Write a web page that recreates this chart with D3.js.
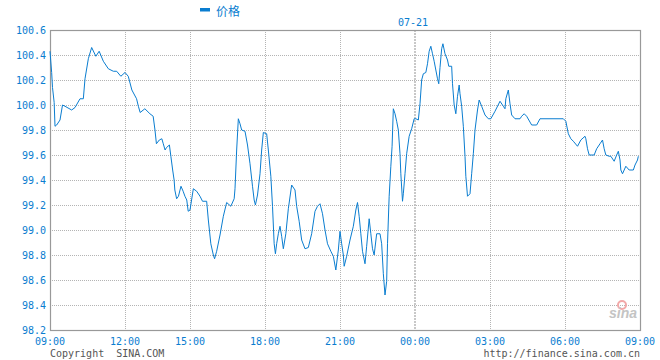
<!DOCTYPE html>
<html><head><meta charset="utf-8">
<script src="https://cdn.jsdelivr.net/npm/d3@7"></script>
<style>body{margin:0;background:#fff}svg{display:block}</style>
</head><body>
<script>
// minutes since 09:00 (day 1) and price
const minutes = [0,4,6,10,12,16,24,30,36,52,60,72,80,84,92,100,110,118,128,140,152,160,170,180,
189,199,212,217,222,235,249,258,263,267,275,282,286,291,295,303,307,312,316,318,323,328,335,341,346,351,355,360,
368,376,384,390,400,404,410,416,419,424,432,440,448,458,466,468,472,476,480,484,492,498,504,510,514,517,522,528,532,536,
544,548,554,558,562,565,568,572,576,580,584,590,596,604,612,616,622,628,636,644,652,660,666,672,678,684,690,698,704,710,716,
720,724,728,730,736,744,752,758,762,766,770,774,780,784,790,794,798,802,808,816,820,824,828,832,834,838,842,845,848,852,856,860,864,866,870,872,876,880,886,892,898,
902,908,912,916,920,926,930,934,938,942,946,950,954,957,960,964,967,972,978,981,988,990,994,998,1002,1006,1008,1012,1016,1020,1022,1026,1032,1036,1040,1044,1050,1054,1060,1068,1076,
1082,1092,1104,1112,1116,1118,1124,1128,1132,1140,1152,1156,1162,1168,1180,1192,1200,1256,
1262,1268,1274,1280,1290,1298,1308,1310,1314,1318,1330,1336,1344,1350,1354,1358,1366,1370,1378,1384,1388,1392,1394,1398,1402,1406,1414,1424,1428,1434,1436];
const prices = [100.43,100.26,100.14,100.02,99.83,99.84,99.88,100.00,99.99,99.96,99.98,100.05,100.05,100.21,100.37,100.46,100.39,100.43,100.35,100.29,100.27,100.27,100.23,100.26,
100.23,100.12,100.05,99.99,99.94,99.97,99.93,99.91,99.80,99.69,99.72,99.73,99.69,99.64,99.66,99.68,99.59,99.48,99.40,99.32,99.25,99.27,99.35,99.31,99.27,99.24,99.15,99.16,
99.33,99.31,99.27,99.23,99.23,99.08,98.89,98.80,98.77,98.83,98.96,99.11,99.22,99.19,99.25,99.33,99.64,99.89,99.85,99.80,99.79,99.68,99.53,99.35,99.24,99.20,99.28,99.45,99.64,99.78,
99.77,99.64,99.43,99.19,98.89,98.81,98.89,98.97,99.03,98.95,98.85,98.97,99.17,99.36,99.32,99.19,99.07,98.92,98.85,98.86,98.97,99.15,99.19,99.21,99.13,99.00,98.89,98.83,98.79,98.68,98.84,
98.99,98.89,98.80,98.71,98.79,98.92,99.03,99.16,99.22,99.11,98.97,98.83,98.73,98.87,99.09,98.97,98.85,98.80,98.97,98.97,98.89,98.65,98.48,98.59,98.89,99.27,99.51,99.67,99.97,99.93,99.87,99.80,99.61,99.45,99.23,99.29,99.45,99.61,99.75,99.81,99.89,
99.89,99.88,100.01,100.20,100.25,100.26,100.33,100.43,100.47,100.41,100.35,100.28,100.21,100.17,100.30,100.45,100.49,100.41,100.36,100.31,100.31,100.17,100.00,99.93,100.07,100.16,100.09,99.99,99.83,99.59,99.43,99.27,99.29,99.45,99.61,99.80,99.96,100.04,99.99,99.92,99.89,
99.89,99.95,100.03,99.99,99.97,100.05,100.12,100.01,99.92,99.89,99.89,99.91,99.93,99.91,99.84,99.84,99.89,99.89,
99.87,99.77,99.73,99.71,99.67,99.72,99.75,99.73,99.65,99.60,99.60,99.65,99.69,99.72,99.65,99.60,99.59,99.59,99.55,99.60,99.63,99.56,99.48,99.45,99.48,99.51,99.48,99.48,99.52,99.56,99.59];

const xTickMinutes = [0,180,360,540,720,900,1080,1260,1440];
const xTickLabels = ["09:00","12:00","15:00","18:00","21:00","00:00","03:00","06:00","09:00"];
const yTicks = [98.2,98.4,98.6,98.8,99.0,99.2,99.4,99.6,99.8,100.0,100.2,100.4,100.6];
const seriesName = "价格";
const dateLabel = "07-21";
const dateMinute = 900;

const W = 660, H = 360;
const L = 50, R = 640, T = 30, B = 330;
const blue = "#0a7dd0";
const mono = "'DejaVu Sans Mono', monospace";

const svg = d3.select("body").append("svg").attr("width", W).attr("height", H);

const x = d3.scaleLinear().domain(xTickMinutes).range([50,125,190,265,340,415,490,565,640]);
const y = d3.scaleLinear().domain([98.2,100.6]).range([B,T]);

// grid
const g = svg.append("g");
g.selectAll("line.h").data(yTicks.slice(1,-1)).join("line")
  .attr("x1", L).attr("x2", R).attr("y1", d=>Math.round(y(d))+0.5).attr("y2", d=>Math.round(y(d))+0.5)
  .attr("stroke","#b4b4b4").attr("stroke-dasharray","1,1");
g.selectAll("line.v").data(xTickMinutes.slice(1,-1).filter(m=>m!==dateMinute)).join("line")
  .attr("x1", d=>Math.round(x(d))+0.5).attr("x2", d=>Math.round(x(d))+0.5).attr("y1", T).attr("y2", B)
  .attr("stroke","#b4b4b4").attr("stroke-dasharray","1,1");
g.append("line").attr("x1", x(dateMinute)).attr("x2", x(dateMinute)).attr("y1", T).attr("y2", B)
  .attr("stroke","#bbb").attr("stroke-width",1.6).attr("stroke-dasharray","2,1");

// frame
svg.append("rect").attr("x", L+0.5).attr("y", T+0.5).attr("width", R-L).attr("height", B-T)
  .attr("fill","none").attr("stroke","#999").attr("stroke-width",1.2);

// logo
svg.append("circle").attr("cx",622).attr("cy",305).attr("r",4).attr("fill","none").attr("stroke","#f2a8a8").attr("stroke-width",2);
svg.append("text").attr("x",609).attr("y",318).text("sina").attr("font-family","Arial, sans-serif")
  .attr("font-size",14).attr("font-style","italic").attr("font-weight","bold").attr("fill","#c4c4c4");

// line
const line = d3.line().x((d,i)=>x(minutes[i])).y(d=>y(d));
svg.append("path").datum(prices).attr("d", line).attr("fill","none").attr("stroke", blue).attr("stroke-width",1);

// y labels
svg.append("g").selectAll("text").data(yTicks).join("text")
  .attr("x", 46).attr("y", d=>y(d)+4).attr("text-anchor","end")
  .attr("font-family", mono).attr("font-size",10).attr("fill", blue).text(d=>d.toFixed(1));

// x labels
svg.append("g").selectAll("text").data(xTickMinutes).join("text")
  .attr("x", d=>x(d)).attr("y", 345).attr("text-anchor","middle")
  .attr("font-family", mono).attr("font-size",10).attr("fill", blue).text((d,i)=>xTickLabels[i]);

// date label
svg.append("text").attr("x", x(dateMinute)-2).attr("y", 26).attr("text-anchor","middle")
  .attr("font-family", mono).attr("font-size",10).attr("fill", blue).text(dateLabel);

// legend
svg.append("rect").attr("x",200).attr("y",8).attr("width",10).attr("height",3.5).attr("fill", blue);
svg.append("text").attr("x",216).attr("y",16).attr("font-family","'Noto Sans CJK SC', sans-serif")
  .attr("font-size",12).attr("fill", blue).text(seriesName);

// footer
svg.append("text").attr("x",50).attr("y",357).attr("font-family", mono).attr("font-size",10).attr("fill","#555")
  .attr("xml:space","preserve").text("Copyright  SINA.COM");
svg.append("text").attr("x",640).attr("y",357).attr("text-anchor","end").attr("font-family", mono).attr("font-size",10).attr("fill","#555")
  .text("http://finance.sina.com.cn");
</script>
</body></html>
